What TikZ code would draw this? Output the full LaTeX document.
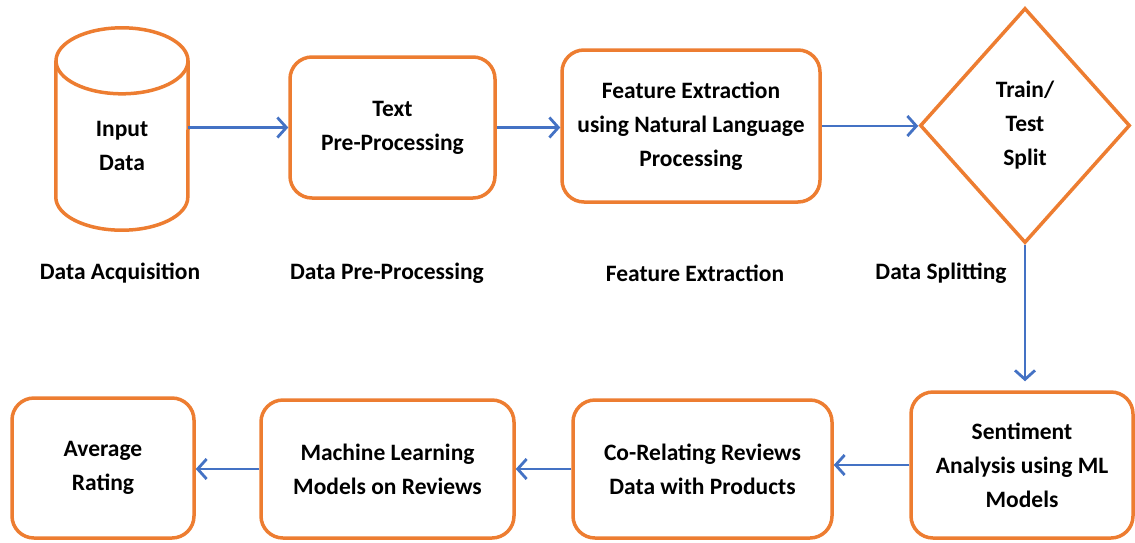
\documentclass[tikz,border=0pt]{standalone}
\usepackage{fontspec}
\setmainfont{Carlito}
\usepackage{tikz}
\usepackage{xcolor}
\usetikzlibrary{shapes.geometric, arrows.meta}
\definecolor{boxorange}{RGB}{237,125,49}
\definecolor{flowblue}{RGB}{68,114,196}
\tikzstyle{stepbox} = [rectangle, rounded corners=22pt, draw=boxorange, line width=3.5pt, align=center, inner sep=0pt]
\tikzstyle{splitbox} = [diamond, draw=boxorange, line width=3.5pt, align=center, inner sep=0pt, minimum width=210pt, minimum height=235pt]
\tikzstyle{dbbox} = [rectangle, minimum width=132pt, minimum height=169pt, align=center, inner sep=0pt]
\tikzstyle{cyl} = [draw=boxorange, line width=3.5pt]
\tikzstyle{steplabel} = [align=center, inner sep=0pt]
\tikzstyle{arrow} = [draw=flowblue, line width=2.8pt, -{Straight Barb[length=9pt,width=20pt]}]

\begin{document}
\begin{tikzpicture}[x=1pt, y=1pt, font=\fontsize{23.5}{34}\selectfont\bfseries]
        \useasboundingbox (0,0) rectangle (1135,-542);

        % Top row
        \node[dbbox] (input) at (122,-145.5) {Input\\Data};
        \node[stepbox, minimum width=205pt, minimum height=141pt] (textpre) at (392.5,-127.5) {Text\\Pre-Processing};
        \node[stepbox, minimum width=258pt, minimum height=152pt] (feature) at (691,-126) {Feature Extraction\\using Natural Language\\Processing};
        \node[splitbox] (split) at (1025,-125.5) {Train/\\Test\\Split};

        % Cylinder
        \draw[cyl] (input.north) ellipse [x radius=66, y radius=33];
        \draw[cyl] (input.north west) -- ([yshift=33pt]input.south west) arc[start angle=180, end angle=360, x radius=66, y radius=33] -- (input.north east);

        % Bottom row
        \node[stepbox, minimum width=222pt, minimum height=146pt] (sentiment) at (1022,-465) {Sentiment\\Analysis using ML\\Models};
        \node[stepbox, minimum width=259pt, minimum height=138pt] (corel) at (702.5,-469) {Co-Relating Reviews\\Data with Products};
        \node[stepbox, minimum width=253pt, minimum height=138pt] (mlmodels) at (387.5,-469) {Machine Learning\\Models on Reviews};
        \node[stepbox, minimum width=182pt, minimum height=140pt] (avgrating) at (103,-468) {Average\\Rating};

        % Stage Labels
        \node[steplabel] (acqlabel) at (120,-273) {Data Acquisition};
        \node[steplabel] (prelabel) at (387,-273) {Data Pre-Processing};
        \node[steplabel] (featlabel) at (695,-273) {Feature Extraction};
        \node[steplabel] (splitlabel) at (941,-273) {Data Splitting};

        % Arrows
        \draw[arrow] (input.east |- textpre.west) -- (textpre.west);
        \draw[arrow] (textpre.east) -- (textpre.east -| feature.west);
        \draw[arrow] (feature.east) -- (feature.east -| split.west);
        \draw[arrow, shorten >=9pt] (split.south) -- (split.south |- sentiment.north);
        \draw[arrow] (sentiment.west) -- (sentiment.west -| corel.east);
        \draw[arrow] (corel.west) -- (corel.west -| mlmodels.east);
        \draw[arrow] (mlmodels.west) -- (mlmodels.west -| avgrating.east);

    \end{tikzpicture}
\end{document}
